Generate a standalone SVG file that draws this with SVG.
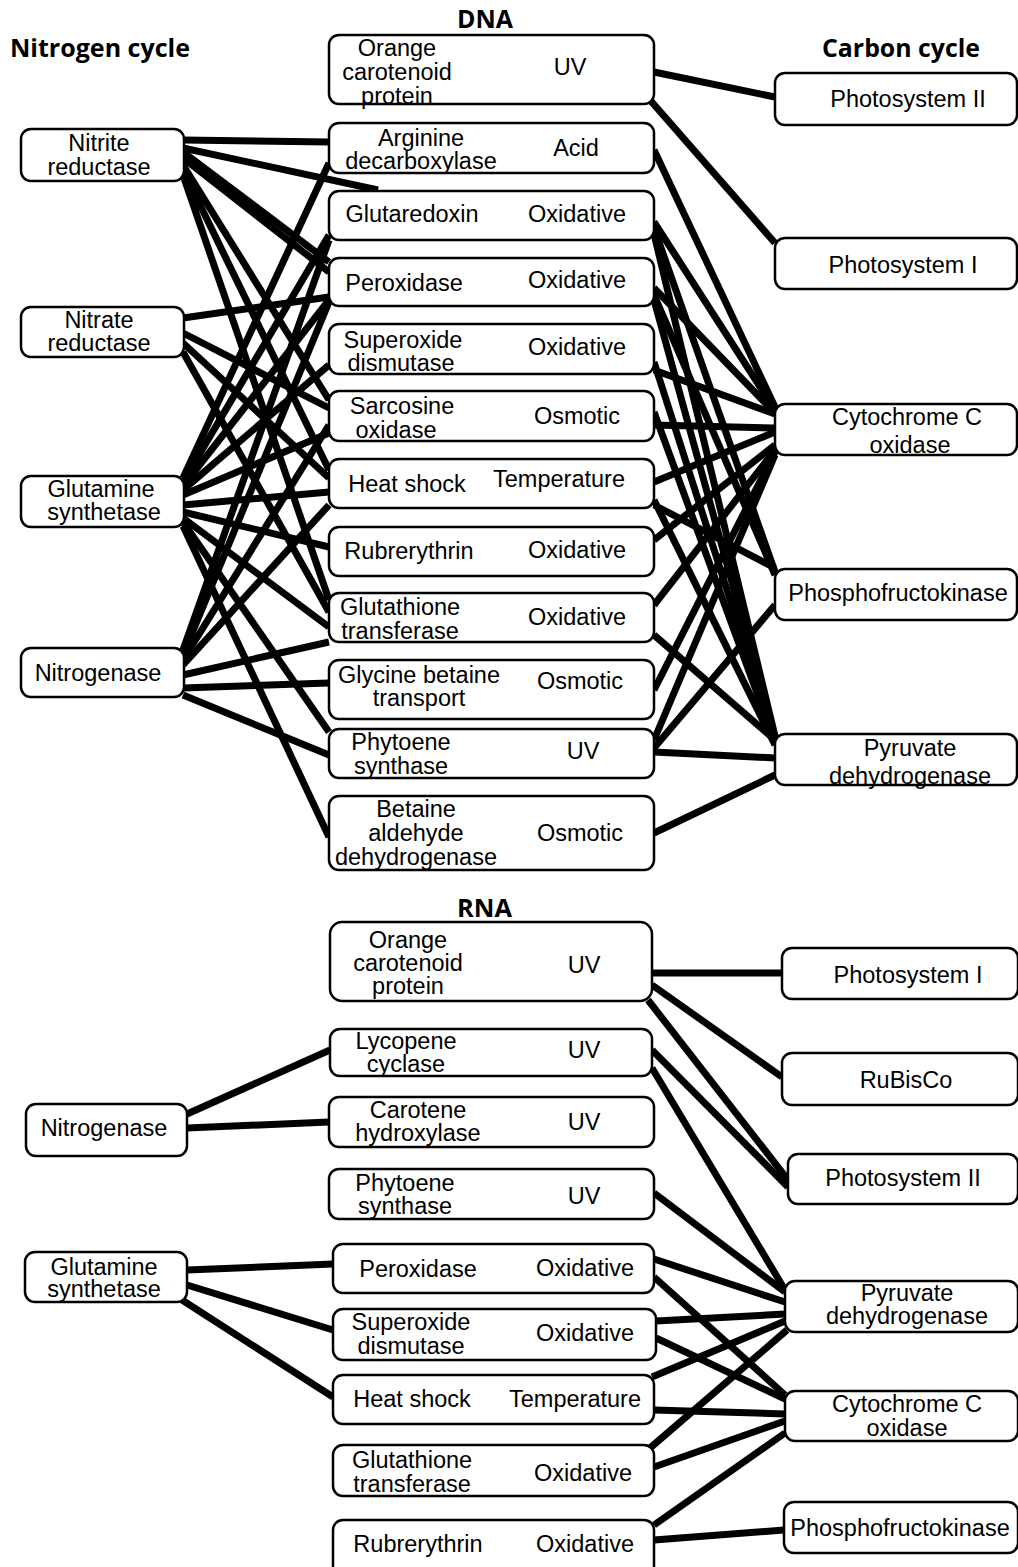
<svg xmlns="http://www.w3.org/2000/svg" width="1018" height="1567" viewBox="0 0 1018 1567">
<style>
.box{fill:#fff;stroke:#000;stroke-width:2.5}
.t{font-family:"Liberation Sans",Arial,sans-serif;font-size:23.5px;text-anchor:middle;fill:#000}
.h{font-family:"Open Sans","DejaVu Sans",sans-serif;font-weight:bold;font-size:25px;fill:#000}
#connectors line{stroke:#000;stroke-width:7}
</style>
<rect width="1018" height="1567" fill="#fff"/>
<g id="titles">
<text class="h" x="10" y="57" textLength="180" lengthAdjust="spacingAndGlyphs">Nitrogen cycle</text>
<text class="h" x="457" y="28" textLength="56" lengthAdjust="spacingAndGlyphs">DNA</text>
<text class="h" x="822" y="57" textLength="158" lengthAdjust="spacingAndGlyphs">Carbon cycle</text>
<text class="h" x="457" y="917" textLength="55" lengthAdjust="spacingAndGlyphs">RNA</text>
</g>
<g id="connectors">
<!-- DNA left -->
<line x1="183" y1="140" x2="329" y2="142"/>
<line x1="183" y1="148" x2="378" y2="190"/>
<line x1="183" y1="152" x2="329" y2="262"/>
<line x1="183" y1="158" x2="329" y2="272"/>
<line x1="183" y1="165" x2="329" y2="400"/>
<line x1="183" y1="170" x2="329" y2="470"/>
<line x1="183" y1="175" x2="329" y2="600"/>
<line x1="183" y1="318" x2="329" y2="297"/>
<line x1="183" y1="333" x2="329" y2="408"/>
<line x1="183" y1="343" x2="329" y2="478"/>
<line x1="183" y1="352" x2="329" y2="612"/>
<line x1="183" y1="478" x2="329" y2="163"/>
<line x1="183" y1="482" x2="329" y2="235"/>
<line x1="183" y1="486" x2="329" y2="300"/>
<line x1="183" y1="490" x2="329" y2="365"/>
<line x1="183" y1="495" x2="329" y2="433"/>
<line x1="183" y1="505" x2="329" y2="492"/>
<line x1="183" y1="512" x2="329" y2="547"/>
<line x1="183" y1="518" x2="329" y2="627"/>
<line x1="183" y1="522" x2="329" y2="732"/>
<line x1="183" y1="526" x2="329" y2="837"/>
<line x1="183" y1="650" x2="329" y2="240"/>
<line x1="183" y1="655" x2="329" y2="302"/>
<line x1="183" y1="660" x2="329" y2="425"/>
<line x1="183" y1="665" x2="329" y2="505"/>
<line x1="183" y1="675" x2="329" y2="642"/>
<line x1="183" y1="688" x2="329" y2="683"/>
<line x1="183" y1="695" x2="329" y2="755"/>
<!-- DNA right -->
<line x1="654" y1="72" x2="775" y2="97"/>
<line x1="650" y1="100" x2="775" y2="243"/>
<line x1="654" y1="150" x2="775" y2="407"/>
<line x1="654" y1="222" x2="775" y2="410"/>
<line x1="654" y1="228" x2="775" y2="572"/>
<line x1="654" y1="234" x2="775" y2="736"/>
<line x1="654" y1="288" x2="775" y2="413"/>
<line x1="654" y1="295" x2="775" y2="575"/>
<line x1="654" y1="300" x2="775" y2="738"/>
<line x1="654" y1="362" x2="775" y2="740"/>
<line x1="654" y1="370" x2="775" y2="414"/>
<line x1="654" y1="412" x2="775" y2="742"/>
<line x1="654" y1="425" x2="775" y2="428"/>
<line x1="654" y1="482" x2="775" y2="432"/>
<line x1="654" y1="500" x2="775" y2="745"/>
<line x1="654" y1="505" x2="775" y2="568"/>
<line x1="654" y1="540" x2="775" y2="445"/>
<line x1="654" y1="605" x2="775" y2="450"/>
<line x1="654" y1="635" x2="775" y2="740"/>
<line x1="654" y1="690" x2="775" y2="452"/>
<line x1="654" y1="740" x2="775" y2="455"/>
<line x1="654" y1="748" x2="775" y2="605"/>
<line x1="654" y1="752" x2="775" y2="758"/>
<line x1="654" y1="833" x2="775" y2="775"/>
<!-- RNA -->
<line x1="187" y1="1114" x2="330" y2="1050"/>
<line x1="187" y1="1128" x2="329" y2="1122"/>
<line x1="187" y1="1270" x2="333" y2="1264"/>
<line x1="187" y1="1285" x2="333" y2="1330"/>
<line x1="182" y1="1300" x2="333" y2="1397"/>
<line x1="652" y1="973" x2="782" y2="973"/>
<line x1="652" y1="985" x2="782" y2="1077"/>
<line x1="648" y1="1000" x2="788" y2="1180"/>
<line x1="652" y1="1050" x2="788" y2="1187"/>
<line x1="652" y1="1068" x2="785" y2="1290"/>
<line x1="654" y1="1193" x2="785" y2="1292"/>
<line x1="654" y1="1259" x2="785" y2="1302"/>
<line x1="654" y1="1277" x2="785" y2="1395"/>
<line x1="656" y1="1321" x2="785" y2="1314"/>
<line x1="656" y1="1338" x2="785" y2="1399"/>
<line x1="652" y1="1377" x2="785" y2="1321"/>
<line x1="654" y1="1410" x2="785" y2="1414"/>
<line x1="650" y1="1448" x2="787" y2="1330"/>
<line x1="654" y1="1467" x2="785" y2="1421"/>
<line x1="654" y1="1525" x2="785" y2="1433"/>
<line x1="654" y1="1540" x2="784" y2="1530"/>
</g>
<!-- DNA left nodes -->
<g id="dna-nitrite-reductase"><rect class="box" x="21" y="129" width="163" height="52" rx="10"/><text class="t" x="99" y="151">Nitrite</text><text class="t" x="99" y="175">reductase</text></g>
<g id="dna-nitrate-reductase"><rect class="box" x="21" y="307" width="163" height="50" rx="10"/><text class="t" x="99" y="328">Nitrate</text><text class="t" x="99" y="351">reductase</text></g>
<g id="dna-glutamine-synthetase"><rect class="box" x="21" y="476" width="163" height="51" rx="10"/><text class="t" x="101" y="497">Glutamine</text><text class="t" x="104" y="520">synthetase</text></g>
<g id="dna-nitrogenase"><rect class="box" x="21" y="648" width="163" height="49" rx="10"/><text class="t" x="98" y="681">Nitrogenase</text></g>
<!-- DNA middle nodes -->
<g id="dna-ocp"><rect class="box" x="329" y="35" width="325" height="69" rx="10"/><text class="t" x="397" y="56">Orange</text><text class="t" x="397" y="80">carotenoid</text><text class="t" x="397" y="104">protein</text><text class="t" x="570" y="75">UV</text></g>
<g id="dna-arginine-decarboxylase"><rect class="box" x="329" y="123" width="325" height="50" rx="10"/><text class="t" x="421" y="146">Arginine</text><text class="t" x="421" y="169">decarboxylase</text><text class="t" x="576" y="156">Acid</text></g>
<g id="dna-glutaredoxin"><rect class="box" x="329" y="191" width="325" height="49" rx="10"/><text class="t" x="412" y="222">Glutaredoxin</text><text class="t" x="577" y="222">Oxidative</text></g>
<g id="dna-peroxidase"><rect class="box" x="329" y="258" width="325" height="48" rx="10"/><text class="t" x="404" y="291">Peroxidase</text><text class="t" x="577" y="288">Oxidative</text></g>
<g id="dna-superoxide-dismutase"><rect class="box" x="329" y="324" width="325" height="50" rx="10"/><text class="t" x="403" y="348">Superoxide</text><text class="t" x="401" y="371">dismutase</text><text class="t" x="577" y="355">Oxidative</text></g>
<g id="dna-sarcosine-oxidase"><rect class="box" x="329" y="391" width="325" height="50" rx="10"/><text class="t" x="402" y="414">Sarcosine</text><text class="t" x="396" y="438">oxidase</text><text class="t" x="577" y="424">Osmotic</text></g>
<g id="dna-heat-shock"><rect class="box" x="329" y="459" width="325" height="49" rx="10"/><text class="t" x="407" y="492">Heat shock</text><text class="t" x="559" y="487">Temperature</text></g>
<g id="dna-rubrerythrin"><rect class="box" x="329" y="527" width="325" height="49" rx="10"/><text class="t" x="409" y="559">Rubrerythrin</text><text class="t" x="577" y="558">Oxidative</text></g>
<g id="dna-glutathione-transferase"><rect class="box" x="329" y="593" width="325" height="49" rx="10"/><text class="t" x="400" y="615">Glutathione</text><text class="t" x="400" y="639">transferase</text><text class="t" x="577" y="625">Oxidative</text></g>
<g id="dna-glycine-betaine-transport"><rect class="box" x="329" y="660" width="325" height="59" rx="10"/><text class="t" x="419" y="683">Glycine betaine</text><text class="t" x="419" y="706">transport</text><text class="t" x="580" y="689">Osmotic</text></g>
<g id="dna-phytoene-synthase"><rect class="box" x="329" y="729" width="325" height="49" rx="10"/><text class="t" x="401" y="750">Phytoene</text><text class="t" x="401" y="774">synthase</text><text class="t" x="583" y="759">UV</text></g>
<g id="dna-betaine-aldehyde-dehydrogenase"><rect class="box" x="329" y="796" width="325" height="74" rx="10"/><text class="t" x="416" y="817">Betaine</text><text class="t" x="416" y="841">aldehyde</text><text class="t" x="416" y="865">dehydrogenase</text><text class="t" x="580" y="841">Osmotic</text></g>
<!-- DNA right nodes -->
<g id="dna-photosystem-ii"><rect class="box" x="775" y="73" width="242" height="52" rx="10"/><text class="t" x="908" y="107">Photosystem II</text></g>
<g id="dna-photosystem-i"><rect class="box" x="775" y="238" width="242" height="51" rx="10"/><text class="t" x="903" y="273">Photosystem I</text></g>
<g id="dna-cytochrome-c-oxidase"><rect class="box" x="775" y="404" width="242" height="51" rx="10"/><text class="t" x="907" y="425">Cytochrome C</text><text class="t" x="910" y="453">oxidase</text></g>
<g id="dna-phosphofructokinase"><rect class="box" x="775" y="569" width="242" height="51" rx="10"/><text class="t" x="898" y="601">Phosphofructokinase</text></g>
<g id="dna-pyruvate-dehydrogenase"><rect class="box" x="775" y="734" width="242" height="51" rx="10"/><text class="t" x="910" y="756">Pyruvate</text><text class="t" x="910" y="784">dehydrogenase</text></g>
<!-- RNA left nodes -->
<g id="rna-nitrogenase"><rect class="box" x="26" y="1104" width="161" height="52" rx="10"/><text class="t" x="104" y="1136">Nitrogenase</text></g>
<g id="rna-glutamine-synthetase"><rect class="box" x="25" y="1252" width="162" height="50" rx="10"/><text class="t" x="104" y="1275">Glutamine</text><text class="t" x="104" y="1297">synthetase</text></g>
<!-- RNA middle nodes -->
<g id="rna-ocp"><rect class="box" x="330" y="922" width="322" height="79" rx="12"/><text class="t" x="408" y="948">Orange</text><text class="t" x="408" y="971">carotenoid</text><text class="t" x="408" y="994">protein</text><text class="t" x="584" y="973">UV</text></g>
<g id="rna-lycopene-cyclase"><rect class="box" x="330" y="1029" width="322" height="47" rx="10"/><text class="t" x="406" y="1049">Lycopene</text><text class="t" x="406" y="1072">cyclase</text><text class="t" x="584" y="1058">UV</text></g>
<g id="rna-carotene-hydroxylase"><rect class="box" x="329" y="1097" width="325" height="50" rx="10"/><text class="t" x="418" y="1118">Carotene</text><text class="t" x="418" y="1141">hydroxylase</text><text class="t" x="584" y="1130">UV</text></g>
<g id="rna-phytoene-synthase"><rect class="box" x="329" y="1169" width="325" height="50" rx="10"/><text class="t" x="405" y="1191">Phytoene</text><text class="t" x="405" y="1214">synthase</text><text class="t" x="584" y="1204">UV</text></g>
<g id="rna-peroxidase"><rect class="box" x="333" y="1244" width="321" height="49" rx="10"/><text class="t" x="418" y="1277">Peroxidase</text><text class="t" x="585" y="1276">Oxidative</text></g>
<g id="rna-superoxide-dismutase"><rect class="box" x="333" y="1309" width="323" height="51" rx="10"/><text class="t" x="411" y="1330">Superoxide</text><text class="t" x="411" y="1354">dismutase</text><text class="t" x="585" y="1341">Oxidative</text></g>
<g id="rna-heat-shock"><rect class="box" x="333" y="1375" width="321" height="49" rx="10"/><text class="t" x="412" y="1407">Heat shock</text><text class="t" x="575" y="1407">Temperature</text></g>
<g id="rna-glutathione-transferase"><rect class="box" x="333" y="1445" width="321" height="51" rx="10"/><text class="t" x="412" y="1468">Glutathione</text><text class="t" x="412" y="1492">transferase</text><text class="t" x="583" y="1481">Oxidative</text></g>
<g id="rna-rubrerythrin"><rect class="box" x="333" y="1520" width="321" height="60" rx="10"/><text class="t" x="418" y="1552">Rubrerythrin</text><text class="t" x="585" y="1552">Oxidative</text></g>
<!-- RNA right nodes -->
<g id="rna-photosystem-i"><rect class="box" x="782" y="948" width="236" height="51" rx="10"/><text class="t" x="908" y="983">Photosystem I</text></g>
<g id="rna-rubisco"><rect class="box" x="782" y="1053" width="236" height="52" rx="10"/><text class="t" x="906" y="1088">RuBisCo</text></g>
<g id="rna-photosystem-ii"><rect class="box" x="788" y="1154" width="230" height="50" rx="10"/><text class="t" x="903" y="1186">Photosystem II</text></g>
<g id="rna-pyruvate-dehydrogenase"><rect class="box" x="785" y="1281" width="233" height="51" rx="10"/><text class="t" x="907" y="1301">Pyruvate</text><text class="t" x="907" y="1324">dehydrogenase</text></g>
<g id="rna-cytochrome-c-oxidase"><rect class="box" x="785" y="1391" width="233" height="50" rx="10"/><text class="t" x="907" y="1412">Cytochrome C</text><text class="t" x="907" y="1436">oxidase</text></g>
<g id="rna-phosphofructokinase"><rect class="box" x="784" y="1502" width="234" height="51" rx="10"/><text class="t" x="900" y="1536">Phosphofructokinase</text></g>
</svg>
